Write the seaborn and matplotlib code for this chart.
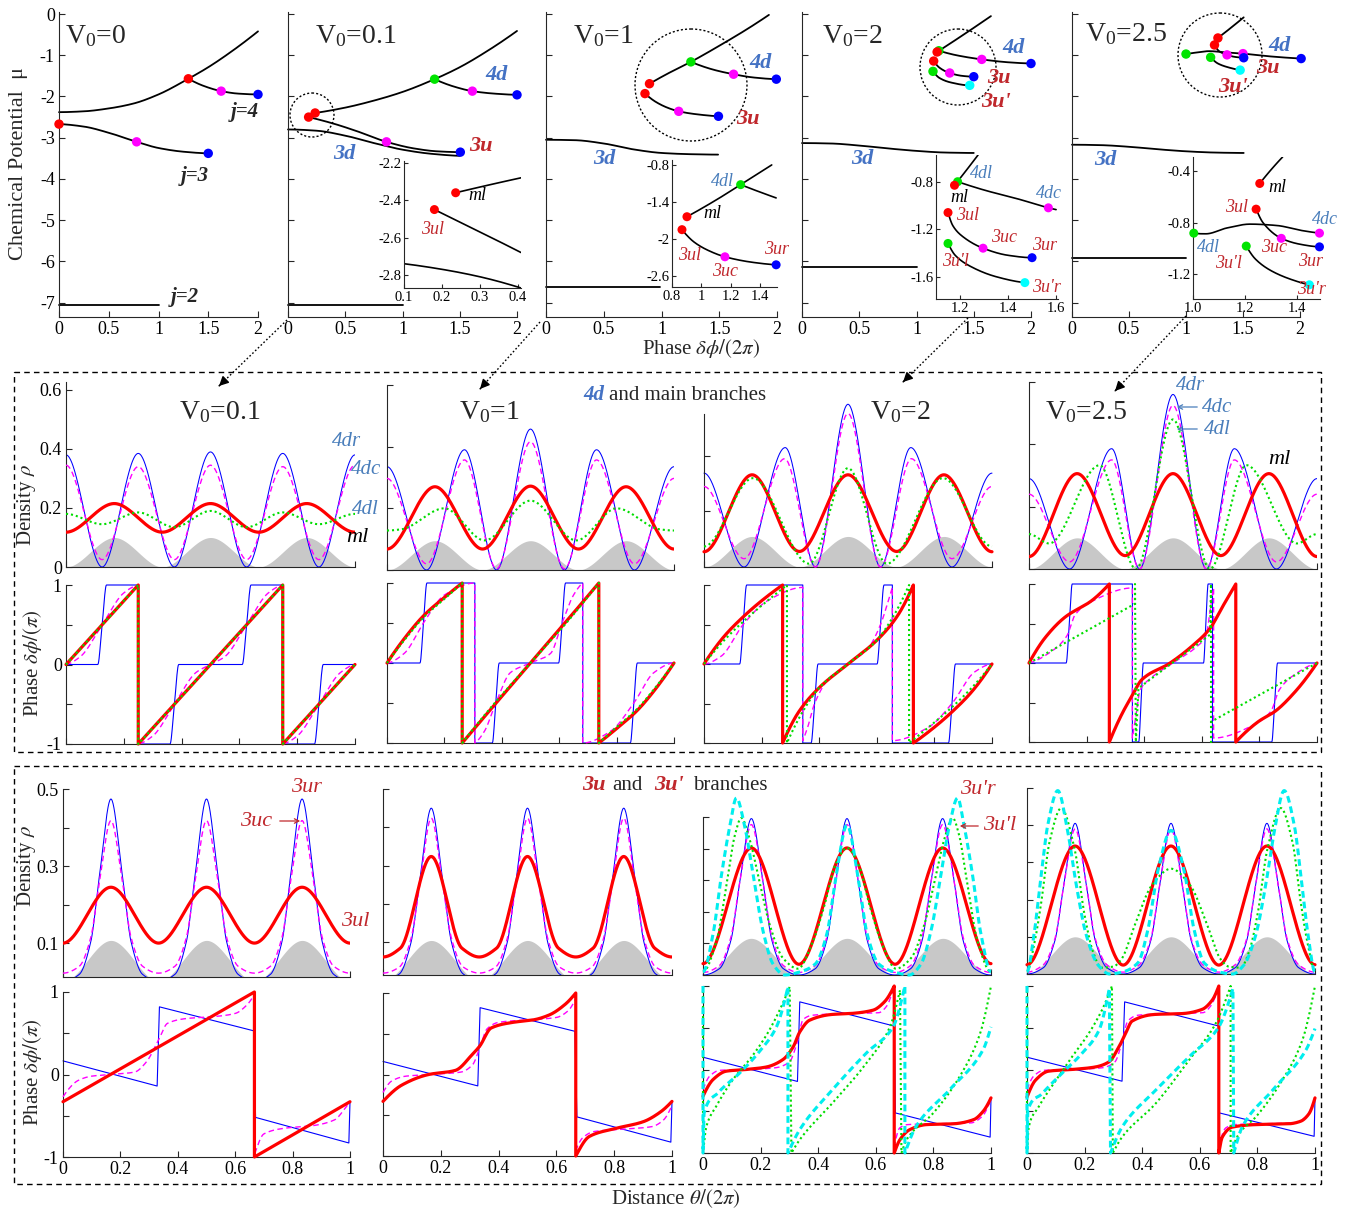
import numpy as np
import matplotlib
matplotlib.use("Agg")
import matplotlib.pyplot as plt
import seaborn as sns
from matplotlib.patches import Circle, Rectangle

# ===================== DATA =====================
# ---- top row: chemical potential branches (x = phase dphi/2pi, y = mu) ----
P1_MAIN = [(0, -2.38), (0.25, -2.36), (0.5, -2.29), (0.75, -2.17), (1.0, -1.95), (1.3, -1.57), (1.5, -1.29), (1.75, -0.88), (2.0, -0.42)]
P1_J4 = [(1.3, -1.57), (1.45, -1.74), (1.63, -1.87), (1.8, -1.93), (2.0, -1.95)]
P1_J3 = [(0, -2.67), (0.25, -2.73), (0.5, -2.88), (0.78, -3.1), (1.0, -3.25), (1.25, -3.34), (1.5, -3.38)]
P1_J2 = [(0, -7.07), (1.0, -7.07)]
P1_DOTS = [(1.3, -1.57, "red"), (1.63, -1.87, "magenta"), (2.0, -1.95, "blue"), (0, -2.67, "red"), (0.78, -3.1, "magenta"), (1.5, -3.38, "blue")]

P2_MAIN = [(0.237, -2.40), (0.5, -2.27), (0.75, -2.1), (1.0, -1.89), (1.28, -1.58), (1.5, -1.29), (1.75, -0.88), (2.0, -0.41)]
P2_4D = [(1.28, -1.58), (1.45, -1.76), (1.61, -1.87), (1.8, -1.93), (2.0, -1.96)]
P2_3U = [(0.18, -2.5), (0.4, -2.66), (0.6, -2.84), (0.86, -3.1), (1.1, -3.26), (1.3, -3.33), (1.505, -3.35)]
P2_3D = [(0, -2.8), (0.25, -2.83), (0.5, -2.95), (0.75, -3.13), (1.0, -3.29), (1.25, -3.39), (1.5, -3.44)]
P2_LOW = [(0, -7.05), (1.0, -7.05)]
P2_DOTS = [(0.237, -2.40, "red"), (0.18, -2.5, "red"), (1.28, -1.58, "green"), (1.61, -1.87, "magenta"), (2.0, -1.96, "blue"), (0.86, -3.1, "magenta"), (1.505, -3.35, "blue")]

P3_MAIN = [(0.896, -1.69), (1.05, -1.45), (1.254, -1.16), (1.5, -0.77), (1.75, -0.35), (1.93, -0.02)]
P3_4D = [(1.254, -1.16), (1.45, -1.35), (1.624, -1.46), (1.8, -1.54), (1.994, -1.58)]
P3_3U = [(0.857, -1.93), (0.95, -2.13), (1.05, -2.27), (1.149, -2.36), (1.3, -2.43), (1.493, -2.48)]
P3_3D = [(0, -3.05), (0.25, -3.06), (0.5, -3.14), (0.75, -3.28), (1.0, -3.37), (1.25, -3.40), (1.49, -3.41)]
P3_LOW = [(0, -6.62), (0.99, -6.62)]
P3_DOTS = [(0.896, -1.69, "red"), (0.857, -1.93, "red"), (1.254, -1.16, "green"), (1.624, -1.46, "magenta"), (1.994, -1.58, "blue"), (1.149, -2.36, "magenta"), (1.493, -2.48, "blue")]

P4_MAIN = [(1.18, -0.92), (1.4, -0.52), (1.65, -0.05)]
P4_4D = [(1.195, -0.89), (1.35, -1.0), (1.57, -1.1), (1.8, -1.17), (2.0, -1.2)]
P4_3U = [(1.15, -1.14), (1.2, -1.3), (1.29, -1.43), (1.4, -1.5), (1.5, -1.52)]
P4_3UP = [(1.144, -1.39), (1.2, -1.55), (1.3, -1.66), (1.465, -1.73)]
P4_3D = [(0, -3.13), (0.25, -3.14), (0.5, -3.19), (0.75, -3.26), (1.0, -3.32), (1.25, -3.36), (1.5, -3.37)]
P4_LOW = [(0, -6.13), (1.0, -6.13)]
P4_DOTS = [(1.195, -0.89, "green"), (1.18, -0.92, "red"), (1.57, -1.1, "magenta"), (2.0, -1.2, "blue"), (1.15, -1.14, "red"), (1.29, -1.43, "magenta"), (1.5, -1.52, "blue"), (1.144, -1.39, "green"), (1.465, -1.73, "cyan")]

P5_MAIN = [(1.28, -0.58), (1.4, -0.32), (1.506, -0.08)]
P5_4D = [(1.0, -0.97), (1.1, -0.93), (1.2, -0.9), (1.35, -0.93), (1.5, -0.96), (1.75, -1.03), (2.01, -1.08)]
P5_3U = [(1.25, -0.75), (1.29, -0.9), (1.36, -0.99), (1.43, -1.04), (1.506, -1.06)]
P5_3UP = [(1.216, -1.05), (1.28, -1.2), (1.38, -1.3), (1.475, -1.36)]
P5_3D = [(0, -3.17), (0.25, -3.18), (0.5, -3.22), (0.75, -3.28), (1.0, -3.33), (1.25, -3.36), (1.506, -3.37)]
P5_LOW = [(0, -5.92), (1.0, -5.92)]
P5_DOTS = [(1.28, -0.58, "red"), (1.25, -0.75, "red"), (1.0, -0.97, "green"), (1.5, -0.96, "magenta"), (2.01, -1.08, "blue"), (1.36, -0.99, "magenta"), (1.506, -1.06, "blue"), (1.216, -1.05, "green"), (1.475, -1.36, "cyan")]

# ---- insets ----
I2_ML = [(0.236, -2.36), (0.32, -2.32), (0.408, -2.28)]
I2_3UL = [(0.18, -2.45), (0.25, -2.52), (0.32, -2.59), (0.408, -2.68)]
I2_3D = [(0.1, -2.74), (0.2, -2.77), (0.3, -2.81), (0.408, -2.87)]
I2_DOTS = [(0.236, -2.36, "red"), (0.18, -2.45, "red")]

I3_ML = [(0.902, -1.64), (1.1, -1.37), (1.268, -1.12), (1.48, -0.8)]
I3_4D = [(1.268, -1.12), (1.4, -1.24), (1.51, -1.335)]
I3_3U = [(0.868, -1.85), (0.95, -2.05), (1.05, -2.19), (1.161, -2.29), (1.35, -2.38), (1.51, -2.42)]
I3_DOTS = [(0.902, -1.64, "red"), (1.268, -1.12, "green"), (0.868, -1.85, "red"), (1.161, -2.29, "magenta"), (1.51, -2.42, "blue")]

I4_ML = [(1.177, -0.83), (1.22, -0.72), (1.275, -0.575)]
I4_4DC = [(1.19, -0.8), (1.3, -0.87), (1.45, -0.95), (1.568, -1.02), (1.6, -1.035)]
I4_3U = [(1.15, -1.06), (1.17, -1.17), (1.21, -1.26), (1.296, -1.36), (1.4, -1.42), (1.5, -1.44)]
I4_3UP = [(1.15, -1.32), (1.18, -1.42), (1.25, -1.52), (1.35, -1.6), (1.47, -1.65)]
I4_DOTS = [(1.19, -0.8, "green"), (1.177, -0.83, "red"), (1.568, -1.02, "magenta"), (1.15, -1.06, "red"), (1.296, -1.36, "magenta"), (1.5, -1.44, "blue"), (1.15, -1.32, "green"), (1.47, -1.65, "cyan")]

I5_ML = [(1.257, -0.495), (1.3, -0.39), (1.345, -0.29)]
I5_3UL = [(1.243, -0.694), (1.27, -0.8), (1.34, -0.92), (1.41, -0.965), (1.487, -0.986)]
I5_4DL = [(1.003, -0.88), (1.05, -0.885), (1.13, -0.84), (1.22, -0.81), (1.32, -0.82), (1.42, -0.86), (1.487, -0.88)]
I5_3UPL = [(1.205, -0.98), (1.24, -1.08), (1.3, -1.17), (1.38, -1.24), (1.448, -1.28)]
I5_DOTS = [(1.257, -0.495, "red"), (1.243, -0.694, "red"), (1.003, -0.88, "green"), (1.487, -0.88, "magenta"), (1.34, -0.92, "magenta"), (1.487, -0.986, "blue"), (1.205, -0.98, "green"), (1.448, -1.28, "cyan")]

# ---- middle section (4d and main branches): density half-period knots x in [0, 0.5] (mirror symmetric) ----
M1_BLUE = [(0, 0.38), (0.125, 0.0), (0.25, 0.385), (0.375, 0.0), (0.5, 0.39)]
M1_MAG = [(0, 0.345), (0.125, 0.025), (0.25, 0.34), (0.375, 0.025), (0.5, 0.345)]
M1_GREEN = [(0, 0.18), (0.125, 0.145), (0.25, 0.185), (0.375, 0.135), (0.5, 0.19)]
M1_RED = [(0, 0.118), (0.167, 0.215), (0.333, 0.118), (0.5, 0.215)]
M1_GRAY = [(0, 0.0), (0.167, 0.1), (0.333, 0.0), (0.5, 0.1)]

M2_BLUE = [(0, 0.335), (0.138, 0.0), (0.27, 0.39), (0.382, 0.0), (0.5, 0.457)]
M2_MAG = [(0, 0.297), (0.138, 0.02), (0.27, 0.357), (0.382, 0.004), (0.5, 0.416)]
M2_GREEN = [(0, 0.128), (0.05, 0.132), (0.2, 0.2), (0.34, 0.096), (0.5, 0.225)]
M2_RED = [(0, 0.068), (0.167, 0.27), (0.333, 0.068), (0.5, 0.272)]
M2_GRAY = [(0, 0.0), (0.167, 0.095), (0.333, 0.0), (0.5, 0.095)]

M3_BLUE = [(0, 0.338), (0.139, 0.0), (0.282, 0.43), (0.387, 0.0), (0.5, 0.586)]
M3_MAG = [(0, 0.29), (0.139, 0.03), (0.28, 0.39), (0.387, 0.0), (0.5, 0.553)]
M3_GREEN = [(0, 0.074), (0.17, 0.32), (0.365, 0.012), (0.5, 0.356)]
M3_RED = [(0, 0.055), (0.167, 0.332), (0.331, 0.056), (0.5, 0.332)]
M3_GRAY = [(0, 0.0), (0.167, 0.11), (0.333, 0.0), (0.5, 0.11)]

M4_BLUE = [(0, 0.29), (0.141, 0.0), (0.287, 0.386), (0.384, 0.0), (0.5, 0.56)]
M4_MAG = [(0, 0.24), (0.141, 0.023), (0.287, 0.35), (0.384, 0.0), (0.5, 0.525)]
M4_GREEN = [(0, 0.112), (0.07, 0.082), (0.245, 0.333), (0.372, 0.0), (0.5, 0.48)]
M4_RED = [(0, 0.04), (0.167, 0.306), (0.334, 0.043), (0.5, 0.306)]
M4_GRAY = [(0, 0.0), (0.167, 0.1), (0.333, 0.0), (0.5, 0.1)]

# ---- middle section phase (segments split at the 2pi jumps) ----
M1P_BLUE = [[(0, 0), (0.11, 0), (0.125, 0.5), (0.14, 1), (0.25, 1)],
            [(0.25, -1), (0.36, -1), (0.375, -0.5), (0.39, 0), (0.61, 0), (0.625, 0.5), (0.64, 1), (0.75, 1)],
            [(0.75, -1), (0.86, -1), (0.875, -0.5), (0.89, 0), (1, 0)]]
M1P_MAG = [[(0, 0), (0.05, 0.1), (0.125, 0.5), (0.2, 0.9), (0.25, 1)],
           [(0.25, -1), (0.3, -0.9), (0.375, -0.5), (0.45, -0.1), (0.5, 0), (0.55, 0.1), (0.625, 0.5), (0.7, 0.9), (0.75, 1)],
           [(0.75, -1), (0.8, -0.9), (0.875, -0.5), (0.95, -0.1), (1, 0)]]
M1P_GREEN = [[(0, 0), (0.25, 1)], [(0.25, -1), (0.75, 1)], [(0.75, -1), (1, 0)]]
M1P_RED = [[(0, 0), (0.25, 1)], [(0.25, -1), (0.75, 1)], [(0.75, -1), (1, 0)]]

M2P_BLUE = [[(0, 0), (0.115, 0), (0.127, 0.5), (0.139, 1), (0.306, 1)],
            [(0.306, -1), (0.367, -1), (0.379, -0.5), (0.391, 0), (0.598, 0), (0.61, 0.5), (0.622, 1), (0.682, 1)],
            [(0.682, -1), (0.848, -1), (0.86, -0.5), (0.872, 0), (1, 0)]]
M2P_MAG = [[(0, 0), (0.06, 0.12), (0.127, 0.5), (0.2, 0.85), (0.306, 1)],
           [(0.306, -1), (0.34, -0.85), (0.379, -0.5), (0.43, -0.12), (0.5, 0), (0.57, 0.12), (0.61, 0.5), (0.65, 0.85), (0.682, 1)],
           [(0.682, -1), (0.78, -0.85), (0.86, -0.5), (0.93, -0.12), (1, 0)]]
M2P_GREEN = [[(0, 0), (0.07, 0.33), (0.13, 0.58), (0.2, 0.8), (0.262, 1)],
             [(0.262, -1), (0.38, -0.48), (0.5, 0), (0.62, 0.48), (0.738, 1)],
             [(0.738, -1), (0.8, -0.8), (0.87, -0.58), (0.93, -0.33), (1, 0)]]
M2P_RED = [[(0, 0), (0.07, 0.35), (0.13, 0.6), (0.2, 0.82), (0.262, 1)],
           [(0.262, -1), (0.38, -0.5), (0.5, 0), (0.62, 0.5), (0.738, 1)],
           [(0.738, -1), (0.8, -0.82), (0.87, -0.6), (0.93, -0.35), (1, 0)]]

M3P_BLUE = [[(0, 0), (0.124, 0), (0.136, 0.5), (0.148, 1), (0.343, 1)],
            [(0.343, -1), (0.372, -1), (0.384, -0.5), (0.396, 0), (0.601, 0), (0.613, 0.5), (0.625, 1), (0.654, 1)],
            [(0.654, -1), (0.849, -1), (0.861, -0.5), (0.873, 0), (1, 0)]]
M3P_MAG = [[(0, 0), (0.06, 0.1), (0.136, 0.5), (0.22, 0.8), (0.343, 0.97)],
           [(0.343, -0.97), (0.36, -0.8), (0.384, -0.5), (0.43, -0.2), (0.5, 0), (0.57, 0.2), (0.613, 0.5), (0.64, 0.8), (0.654, 0.97)],
           [(0.654, -0.97), (0.78, -0.8), (0.861, -0.5), (0.94, -0.1), (1, 0)]]
M3P_GREEN = [[(0, 0), (0.07, 0.3), (0.14, 0.55), (0.22, 0.8), (0.288, 1)],
             [(0.288, -1), (0.34, -0.62), (0.4, -0.3), (0.5, 0), (0.6, 0.3), (0.66, 0.62), (0.712, 1)],
             [(0.712, -1), (0.78, -0.8), (0.86, -0.55), (0.93, -0.3), (1, 0)]]
M3P_RED = [[(0, 0), (0.07, 0.35), (0.137, 0.6), (0.2, 0.8), (0.273, 1)],
           [(0.273, -1), (0.33, -0.6), (0.4, -0.3), (0.5, 0), (0.6, 0.3), (0.67, 0.6), (0.727, 1)],
           [(0.727, -1), (0.8, -0.8), (0.863, -0.6), (0.93, -0.35), (1, 0)]]

M4P_BLUE = [[(0, 0), (0.129, 0), (0.14, 0.5), (0.15, 1), (0.359, 1)],
            [(0.359, -1), (0.381, -1), (0.389, -0.5), (0.397, 0), (0.606, 0), (0.614, 0.5), (0.622, 1), (0.637, 1)],
            [(0.637, -1), (0.843, -1), (0.853, -0.5), (0.863, 0), (1, 0)]]
M4P_MAG = [[(0, 0), (0.079, 0.15), (0.131, 0.34), (0.16, 0.61), (0.218, 0.78), (0.359, 0.95)],
           [(0.359, -0.95), (0.37, -0.7), (0.385, -0.35), (0.42, -0.2), (0.5, 0), (0.58, 0.2), (0.615, 0.35), (0.63, 0.7), (0.641, 0.95)],
           [(0.641, -0.95), (0.782, -0.78), (0.84, -0.61), (0.869, -0.34), (0.921, -0.15), (1, 0)]]
M4P_GREEN_POLY = [(0, 0), (0.368, 0.75), (0.368, 1), (0.371, -1), (0.38, -0.32), (0.629, 0.36), (0.632, 1), (0.632, -1), (0.634, -0.74), (1, 0)]
M4P_RED = [[(0, 0), (0.056, 0.32), (0.125, 0.58), (0.218, 0.79), (0.279, 1)],
           [(0.279, -1), (0.322, -0.65), (0.357, -0.42), (0.392, -0.21), (0.49, 0.0), (0.565, 0.21), (0.629, 0.44), (0.67, 0.7), (0.718, 1)],
           [(0.718, -1), (0.797, -0.74), (0.855, -0.61), (0.925, -0.36), (1, 0)]]

# ---- bottom section (3u and 3u' branches): density half-period knots x in [0, 0.5] ----
B1_BLUE = [(0, 0.0), (0.057, 0.019), (0.097, 0.104), (0.127, 0.275), (0.167, 0.474), (0.207, 0.275), (0.237, 0.104), (0.277, 0.019), (0.333, 0.0), (0.39, 0.019), (0.43, 0.104), (0.46, 0.275), (0.5, 0.474)]
B1_MAG = [(0, 0.022), (0.057, 0.04), (0.097, 0.115), (0.127, 0.26), (0.167, 0.418), (0.207, 0.26), (0.237, 0.115), (0.277, 0.04), (0.333, 0.022), (0.39, 0.04), (0.43, 0.115), (0.46, 0.26), (0.5, 0.418)]
B1_RED = [(0, 0.1), (0.167, 0.245), (0.333, 0.1), (0.5, 0.245)]
B1_GRAY = [(0, 0.0), (0.167, 0.107), (0.333, 0.0), (0.5, 0.107)]

B2_BLUE = [(0, 0.0), (0.057, 0.018), (0.097, 0.1), (0.127, 0.26), (0.167, 0.45), (0.207, 0.26), (0.237, 0.1), (0.277, 0.018), (0.333, 0.0), (0.39, 0.018), (0.43, 0.1), (0.46, 0.26), (0.5, 0.45)]
B2_MAG = [(0, 0.02), (0.057, 0.036), (0.097, 0.11), (0.127, 0.25), (0.167, 0.424), (0.207, 0.25), (0.237, 0.11), (0.277, 0.036), (0.333, 0.02), (0.39, 0.036), (0.43, 0.11), (0.46, 0.25), (0.5, 0.424)]
B2_RED = [(0, 0.062), (0.06, 0.085), (0.167, 0.324), (0.273, 0.085), (0.333, 0.062), (0.393, 0.085), (0.5, 0.324)]
B2_GRAY = [(0, 0.0), (0.167, 0.105), (0.333, 0.0), (0.5, 0.105)]

B3_BLUE = [(0, 0.0), (0.057, 0.02), (0.097, 0.11), (0.127, 0.29), (0.168, 0.495), (0.209, 0.29), (0.239, 0.11), (0.279, 0.02), (0.333, 0.0), (0.39, 0.02), (0.43, 0.11), (0.46, 0.29), (0.5, 0.495)]
B3_MAG = [(0, 0.008), (0.057, 0.03), (0.097, 0.12), (0.127, 0.29), (0.168, 0.476), (0.209, 0.29), (0.239, 0.12), (0.279, 0.03), (0.333, 0.008), (0.39, 0.03), (0.43, 0.12), (0.46, 0.29), (0.5, 0.476)]
B3_RED = [(0, 0.036), (0.168, 0.402), (0.333, 0.034), (0.5, 0.402)]
B3_CYAN = [(0, 0.01), (0.035, 0.13), (0.064, 0.316), (0.093, 0.47), (0.116, 0.56), (0.145, 0.47), (0.174, 0.316), (0.209, 0.137), (0.243, 0.035), (0.284, 0.0), (0.33, 0.008), (0.39, 0.035), (0.43, 0.13), (0.46, 0.3), (0.5, 0.474)]
B3_GREEN = [(0, 0.01), (0.046, 0.105), (0.087, 0.316), (0.11, 0.44), (0.133, 0.497), (0.162, 0.43), (0.191, 0.316), (0.232, 0.158), (0.278, 0.053), (0.33, 0.02), (0.379, 0.1), (0.42, 0.215), (0.46, 0.35), (0.5, 0.402)]
B3_GRAY = [(0, 0.0), (0.167, 0.116), (0.333, 0.0), (0.5, 0.116)]

B4_BLUE = [(0, 0.0), (0.057, 0.017), (0.097, 0.09), (0.127, 0.235), (0.167, 0.405), (0.207, 0.235), (0.237, 0.09), (0.277, 0.017), (0.333, 0.0), (0.39, 0.017), (0.43, 0.09), (0.46, 0.235), (0.5, 0.405)]
B4_MAG = [(0, 0.005), (0.057, 0.025), (0.097, 0.095), (0.127, 0.235), (0.167, 0.39), (0.207, 0.235), (0.237, 0.095), (0.277, 0.025), (0.333, 0.005), (0.39, 0.025), (0.43, 0.095), (0.46, 0.235), (0.5, 0.39)]
B4_RED = [(0, 0.025), (0.167, 0.344), (0.334, 0.024), (0.5, 0.344)]
B4_CYAN = [(0, 0.006), (0.025, 0.11), (0.049, 0.265), (0.072, 0.4), (0.107, 0.493), (0.142, 0.38), (0.171, 0.24), (0.206, 0.104), (0.247, 0.024), (0.287, 0.0), (0.33, 0.005), (0.385, 0.03), (0.42, 0.12), (0.456, 0.283), (0.5, 0.386)]
B4_GREEN = [(0, 0.006), (0.025, 0.08), (0.049, 0.19), (0.078, 0.354), (0.119, 0.446), (0.165, 0.337), (0.2, 0.158), (0.229, 0.06), (0.258, 0.017), (0.3, 0.02), (0.328, 0.04), (0.374, 0.131), (0.433, 0.238), (0.5, 0.283)]
B4_GRAY = [(0, 0.0), (0.167, 0.1), (0.333, 0.0), (0.5, 0.1)]

# ---- bottom section phase ----
B1P_BLUE = [(0, 0.165), (0.328, -0.14), (0.336, 0.82), (0.664, 0.53), (0.671, -0.52), (0.996, -0.83), (1.0, -0.33)]
B1P_MAG = [[(0, -0.27), (0.054, -0.07), (0.1, -0.02), (0.167, 0.0), (0.25, 0.03), (0.29, 0.15), (0.333, 0.42), (0.364, 0.62), (0.434, 0.68), (0.52, 0.7), (0.6, 0.74), (0.64, 0.84), (0.667, 0.97)],
           [(0.667, -0.97), (0.7, -0.72), (0.775, -0.65), (0.87, -0.62), (0.946, -0.55), (0.985, -0.4), (1.0, -0.33)]]
B1P_RED = [[(0, -0.33), (0.667, 1.0)], [(0.667, -1.0), (1.0, -0.33)]]

B2P_BLUE = [(0, 0.16), (0.328, -0.14), (0.336, 0.82), (0.664, 0.53), (0.671, -0.52), (0.996, -0.83), (1.0, -0.33)]
B2P_MAG = [[(0, -0.22), (0.03, -0.08), (0.08, -0.02), (0.167, 0.0), (0.27, 0.03), (0.31, 0.12), (0.335, 0.33), (0.36, 0.56), (0.4, 0.64), (0.5, 0.67), (0.6, 0.7), (0.64, 0.78), (0.667, 0.93)],
           [(0.667, -0.93), (0.69, -0.78), (0.73, -0.7), (0.833, -0.67), (0.93, -0.64), (0.97, -0.56), (1.0, -0.38)]]
B2P_RED = [[(0, -0.33), (0.065, -0.13), (0.158, 0.0), (0.25, 0.05), (0.31, 0.25), (0.335, 0.35), (0.374, 0.57), (0.45, 0.64), (0.52, 0.67), (0.575, 0.73), (0.63, 0.86), (0.667, 1.0)],
           [(0.667, -1.0), (0.714, -0.76), (0.807, -0.66), (0.9, -0.58), (0.96, -0.46), (1.0, -0.33)]]

B3P_BLUE = [(0, 0.147), (0.328, -0.143), (0.336, 0.81), (0.664, 0.52), (0.668, -0.52), (0.997, -0.81), (1.0, -0.34)]
B3P_MAG = [[(0, -0.24), (0.023, -0.08), (0.058, -0.01), (0.15, 0.0), (0.25, 0.02), (0.3, 0.09), (0.325, 0.3), (0.348, 0.6), (0.38, 0.65), (0.5, 0.67), (0.61, 0.68), (0.64, 0.77), (0.655, 0.9), (0.664, 0.97)],
           [(0.664, -0.92), (0.683, -0.7), (0.71, -0.66), (0.8, -0.65), (0.93, -0.64), (0.97, -0.56), (0.995, -0.4)]]
B3P_RED = [[(0, -0.32), (0.035, -0.12), (0.081, -0.02), (0.15, 0.0), (0.22, 0.03), (0.278, 0.12), (0.313, 0.27), (0.336, 0.45), (0.37, 0.59), (0.45, 0.66), (0.51, 0.67), (0.59, 0.71), (0.63, 0.81), (0.664, 1.0)],
           [(0.664, -1.0), (0.684, -0.84), (0.718, -0.72), (0.776, -0.66), (0.87, -0.65), (0.94, -0.6), (0.973, -0.5), (1.0, -0.34)]]
B3P_CYAN = [[(0, 1.0)], [(0, -1.0), (0.004, -0.52), (0.052, -0.28), (0.128, -0.04), (0.197, 0.22), (0.255, 0.51), (0.295, 0.99)],
            [(0.295, -1.0), (0.336, -0.72), (0.45, -0.24), (0.568, 0.2), (0.66, 0.51), (0.701, 1.0)],
            [(0.701, -1.0), (0.74, -0.68), (0.857, -0.24), (0.973, 0.24), (1.0, 0.51)]]
B3P_GREEN = [[(0, 1.0)], [(0, -1.0), (0.012, -0.68), (0.046, -0.44), (0.104, -0.12), (0.162, 0.12), (0.22, 0.41), (0.266, 0.71), (0.301, 0.99)],
             [(0.307, -1.0), (0.336, -0.84), (0.45, -0.4), (0.568, 0.08), (0.649, 0.51), (0.684, 0.95)],
             [(0.689, -1.0), (0.707, -0.84), (0.8, -0.52), (0.892, -0.08), (0.962, 0.43), (1.0, 1.0)]]

B4P_BLUE = [(0, 0.147), (0.33, -0.14), (0.339, 0.81), (0.666, 0.52), (0.668, -0.52), (0.997, -0.8), (1.0, -0.34)]
B4P_MAG = [[(0, -0.24), (0.023, -0.08), (0.058, -0.01), (0.156, 0.0), (0.26, 0.02), (0.305, 0.09), (0.328, 0.3), (0.35, 0.58), (0.385, 0.65), (0.5, 0.67), (0.61, 0.68), (0.64, 0.77), (0.657, 0.9), (0.666, 0.97)],
           [(0.666, -0.92), (0.69, -0.7), (0.72, -0.66), (0.8, -0.65), (0.93, -0.64), (0.97, -0.56), (0.995, -0.4)]]
B4P_RED = [[(0, -0.33), (0.029, -0.13), (0.075, -0.02), (0.156, 0.0), (0.237, 0.03), (0.284, 0.09), (0.319, 0.27), (0.342, 0.43), (0.365, 0.58), (0.446, 0.66), (0.54, 0.67), (0.608, 0.72), (0.643, 0.83), (0.666, 1.0)],
           [(0.666, -1.0), (0.678, -0.81), (0.713, -0.69), (0.794, -0.66), (0.91, -0.65), (0.95, -0.62), (0.979, -0.53), (1.0, -0.34)]]
B4P_CYAN = [[(0, 1.0)], [(0, -1.0), (0.003, -0.49), (0.052, -0.29), (0.12, -0.05), (0.19, 0.19), (0.25, 0.47), (0.286, 0.97)],
            [(0.29, -1.0), (0.33, -0.69), (0.446, -0.25), (0.562, 0.15), (0.666, 0.51), (0.715, 0.97)],
            [(0.718, -1.0), (0.747, -0.69), (0.852, -0.25), (0.968, 0.23), (1.0, 0.49)]]
B4P_GREEN = [[(0, 1.0)], [(0, -1.0), (0.006, -0.69), (0.04, -0.45), (0.1, -0.13), (0.156, 0.15), (0.214, 0.43), (0.26, 0.71), (0.295, 1.0)],
             [(0.298, -1.0), (0.33, -0.81), (0.446, -0.41), (0.562, 0.11), (0.655, 0.55), (0.707, 1.0)],
             [(0.707, -1.0), (0.736, -0.77), (0.794, -0.57), (0.886, -0.13), (0.956, 0.35), (1.0, 1.0)]]

# ===================== STYLE =====================
sns.set_theme(style="white")
plt.rcParams["font.family"] = ["Liberation Serif", "DejaVu Serif"]
plt.rcParams["mathtext.fontset"] = "stix"
plt.rcParams["axes.unicode_minus"] = False

W, H = 1347, 1213
fig = plt.figure(figsize=(W / 100, H / 100), dpi=100)
fig.patch.set_facecolor("white")

AXC = "#262626"
LB = "#4a7ebb"
LBB = "#4472c4"
LR = "#c0282d"
DOTC = {"red": "#ff0000", "green": "#00e400", "magenta": "#ff00ff", "blue": "#0000ff", "cyan": "#00ffff"}
C_BLUE, C_MAG, C_GREEN, C_RED, C_CYAN, C_GRAY = "#0000ff", "#ff00ff", "#00dd00", "#ff0000", "#00eeee", "#c8c8c8"


def add_ax(x0, x1, y0, y1, labelsize=13, ticklen=4):
    ax = fig.add_axes([x0 / W, 1 - y1 / H, (x1 - x0) / W, (y1 - y0) / H])
    ax.set_facecolor("none")
    for s in ("top", "right"):
        ax.spines[s].set_visible(False)
    for s in ("left", "bottom"):
        ax.spines[s].set_color(AXC)
        ax.spines[s].set_linewidth(0.8)
    ax.tick_params(direction="in", length=ticklen, width=0.8, color=AXC, labelsize=labelsize,
                   labelcolor="black", pad=3, bottom=True, left=True)
    return ax


def _end(h0, h1, d0, d1):
    m = ((2 * h0 + h1) * d0 - h0 * d1) / (h0 + h1)
    if np.sign(m) != np.sign(d0):
        m = 0.0
    elif np.sign(d0) != np.sign(d1) and abs(m) > abs(3 * d0):
        m = 3 * d0
    return m


def pchip_curve(knots, zero_ends=False, dens=700):
    k = np.asarray(knots, float)
    x, y = k[:, 0], k[:, 1]
    n = len(x)
    if n <= 2:
        return x, y
    h = np.diff(x)
    d = np.diff(y) / h
    m = np.zeros(n)
    for i in range(1, n - 1):
        if d[i - 1] * d[i] > 0:
            w1 = 2 * h[i] + h[i - 1]
            w2 = h[i] + 2 * h[i - 1]
            m[i] = (w1 + w2) / (w1 / d[i - 1] + w2 / d[i])
    if not zero_ends:
        m[0] = _end(h[0], h[1], d[0], d[1])
        m[-1] = _end(h[-1], h[-2], d[-1], d[-2])
    xs, ys = [], []
    for i in range(n - 1):
        npt = max(8, int(dens * h[i]))
        t = np.linspace(0, 1, npt, endpoint=False)
        t2, t3 = t * t, t * t * t
        xs.append(x[i] + t * h[i])
        ys.append((2 * t3 - 3 * t2 + 1) * y[i] + (t3 - 2 * t2 + t) * h[i] * m[i]
                  + (-2 * t3 + 3 * t2) * y[i + 1] + (t3 - t2) * h[i] * m[i + 1])
    xs.append([x[-1]])
    ys.append([y[-1]])
    return np.concatenate(xs), np.concatenate(ys)


def mirror(half):
    return list(half) + [(1 - x, y) for x, y in reversed(half[:-1])]


def seg_curve(segs):
    xs, ys = [], []
    for s in segs:
        if len(s) == 1:
            xs.append(np.array([s[0][0]]))
            ys.append(np.array([s[0][1]]))
            continue
        cx, cy = pchip_curve(s)
        xs.append(cx)
        ys.append(cy)
    return np.concatenate(xs), np.concatenate(ys)


def sline(ax, x, y, color, lw, ls="-", z=2, clip=True):
    sns.lineplot(x=np.asarray(x, float), y=np.asarray(y, float), ax=ax, color=color, linewidth=lw,
                 linestyle=ls, sort=False, estimator=None, legend=False, zorder=z, clip_on=clip)


def dots(ax, pts, s=46):
    for x, y, c in pts:
        sns.scatterplot(x=[x], y=[y], ax=ax, color=DOTC[c], s=s, edgecolor="none", linewidth=0,
                        zorder=6, clip_on=False, legend=False)


def curve(ax, knots, lw=1.3, color="black"):
    x, y = pchip_curve(knots)
    sline(ax, x, y, color, lw, clip=False)


# ===================== TOP ROW =====================
TOP_X = [(59, 258), (288, 517), (546, 777), (802, 1031), (1072, 1300)]
TOP_CURVES = [
    [P1_MAIN, P1_J4, P1_J3, P1_J2],
    [P2_MAIN, P2_4D, P2_3U, P2_3D, P2_LOW],
    [P3_MAIN, P3_4D, P3_3U, P3_3D, P3_LOW],
    [P4_MAIN, P4_4D, P4_3U, P4_3UP, P4_3D, P4_LOW],
    [P5_MAIN, P5_4D, P5_3U, P5_3UP, P5_3D, P5_LOW],
]
TOP_DOTS = [P1_DOTS, P2_DOTS, P3_DOTS, P4_DOTS, P5_DOTS]
for i, (x0, x1) in enumerate(TOP_X):
    ax = add_ax(x0, x1, 12, 317)
    ax.set_xlim(0, 2)
    ax.set_ylim(-7.35, 0.05)
    ax.set_xticks([0, 0.5, 1, 1.5, 2])
    ax.set_xticklabels(["0", "0.5", "1", "1.5", "2"])
    ax.set_yticks(list(range(-7, 1)))
    ax.set_yticklabels([str(v) for v in range(-7, 1)] if i == 0 else [])
    for c in TOP_CURVES[i]:
        curve(ax, c)
    dots(ax, TOP_DOTS[i])

INSETS = [
    ((404, 521, 161, 288), (0.1, 0.408), (-2.87, -2.19), [0.1, 0.2, 0.3, 0.4], ["0.1", "0.2", "0.3", "0.4"],
     [-2.8, -2.6, -2.4, -2.2], ["-2.8", "-2.6", "-2.4", "-2.2"], [I2_ML, I2_3UL, I2_3D], I2_DOTS),
    ((672, 777, 160, 287), (0.8, 1.516), (-2.78, -0.72), [0.8, 1.0, 1.2, 1.4], ["0.8", "1", "1.2", "1.4"],
     [-2.6, -2.0, -1.4, -0.8], ["-2.6", "-2", "-1.4", "-0.8"], [I3_ML, I3_4D, I3_3U], I3_DOTS),
    ((936, 1058, 155, 299), (1.1, 1.608), (-1.788, -0.575), [1.2, 1.4, 1.6], ["1.2", "1.4", "1.6"],
     [-1.6, -1.2, -0.8], ["-1.6", "-1.2", "-0.8"], [I4_ML, I4_4DC, I4_3U, I4_3UP], I4_DOTS),
    ((1193, 1320, 157, 299), (1.0, 1.489), (-1.39, -0.29), [1.0, 1.2, 1.4], ["1.0", "1.2", "1.4"],
     [-1.2, -0.8, -0.4], ["-1.2", "-0.8", "-0.4"], [I5_ML, I5_3UL, I5_4DL, I5_3UPL], I5_DOTS),
]
for box, xl, yl, xt, xtl, yt, ytl, curves, dd in INSETS:
    ax = add_ax(*box, labelsize=10.5, ticklen=3)
    ax.set_xlim(*xl)
    ax.set_ylim(*yl)
    ax.set_xticks(xt)
    ax.set_xticklabels(xtl)
    ax.set_yticks(yt)
    ax.set_yticklabels(ytl)
    ax.tick_params(pad=2)
    for c in curves:
        x, y = pchip_curve(c)
        sline(ax, x, y, "black", 1.2, clip=True)
    dots(ax, dd, s=42)

# ===================== MIDDLE SECTION =====================
MID_X = [(66, 355), (387, 674), (704, 992), (1029, 1317)]
MID_DY = [(382, 567, 0.627), (385, 570, 0.6), (414, 567, 0.551), (382, 569, 0.6)]
MID_PY = [(585, 744), (583, 743), (585, 743), (584, 742)]
MID_DENS = [
    (M1_GRAY, M1_BLUE, M1_MAG, M1_RED, M1_GREEN),
    (M2_GRAY, M2_BLUE, M2_MAG, M2_RED, M2_GREEN),
    (M3_GRAY, M3_BLUE, M3_MAG, M3_RED, M3_GREEN),
    (M4_GRAY, M4_BLUE, M4_MAG, M4_RED, M4_GREEN),
]
MID_PHASE = [
    (M1P_BLUE, M1P_MAG, M1P_RED, M1P_GREEN),
    (M2P_BLUE, M2P_MAG, M2P_RED, M2P_GREEN),
    (M3P_BLUE, M3P_MAG, M3P_RED, M3P_GREEN),
    (M4P_BLUE, M4P_MAG, M4P_RED, None),
]


def density_panel(ax, gray, blue, mag, red, green, base, clip, cyan=None):
    gx, gy = pchip_curve(mirror(gray), zero_ends=True)
    ax.fill_between(gx, base, np.maximum(gy, base), color=C_GRAY, lw=0, zorder=1)
    x, y = pchip_curve(mirror(blue), zero_ends=True)
    sline(ax, x, y, C_BLUE, 0.75, z=2, clip=clip)
    x, y = pchip_curve(mirror(mag), zero_ends=True)
    sline(ax, x, y, C_MAG, 1.0, ls=(0, (4, 2.5)), z=3, clip=clip)
    x, y = pchip_curve(mirror(red), zero_ends=True)
    sline(ax, x, y, C_RED, 2.3, z=4, clip=clip)
    x, y = pchip_curve(mirror(green), zero_ends=True)
    sline(ax, x, y, C_GREEN, 1.5, ls=(0, (1, 1.4)), z=5, clip=clip)
    if cyan is not None:
        x, y = pchip_curve(mirror(cyan), zero_ends=True)
        sline(ax, x, y, C_CYAN, 2.2, ls=(0, (2.2, 1.3)), z=6, clip=clip)


for i in range(4):
    x0, x1 = MID_X[i]
    t, b, top = MID_DY[i]
    ax = add_ax(x0, x1, t, b)
    ax.set_xlim(0, 1)
    ax.set_ylim(0, top)
    ax.set_xticks([0, 0.2, 0.4, 0.6, 0.8, 1])
    ax.set_xticklabels([])
    yt = [v for v in [0, 0.2, 0.4, 0.6] if v <= top + 1e-9]
    ax.set_yticks(yt)
    ax.set_yticklabels(["0", "0.2", "0.4", "0.6"] if i == 0 else [])
    g, bl, mg, rd, gr = MID_DENS[i]
    density_panel(ax, g, bl, mg, rd, gr, 0.0, clip=(i != 2))

    t, b = MID_PY[i]
    ax = add_ax(x0, x1, t, b)
    ax.set_xlim(0, 1)
    ax.set_ylim(-1, 1)
    ax.set_xticks([0, 0.2, 0.4, 0.6, 0.8, 1])
    ax.set_xticklabels([])
    ax.set_yticks([-1, -0.5, 0, 0.5, 1])
    ax.set_yticklabels(["-1", "", "0", "", "1"] if i == 0 else [])
    pb, pm, pr, pg = MID_PHASE[i]
    x, y = seg_curve(pb)
    sline(ax, x, y, C_BLUE, 0.8, z=2, clip=False)
    x, y = seg_curve(pm)
    sline(ax, x, y, C_MAG, 1.0, ls=(0, (4, 2.5)), z=3, clip=False)
    x, y = seg_curve(pr)
    sline(ax, x, y, C_RED, 2.3, z=4, clip=False)
    if pg is not None:
        x, y = seg_curve(pg)
    else:
        x = [p[0] for p in M4P_GREEN_POLY]
        y = [p[1] for p in M4P_GREEN_POLY]
    sline(ax, x, y, C_GREEN, 1.5, ls=(0, (1, 1.4)), z=5, clip=False)

# ===================== BOTTOM SECTION =====================
BOT_X = [(63, 350), (383, 672), (703, 991), (1027, 1315)]
BOT_DY = [(789, 977, 0.012), (789, 975, 0.015), (817, 975, 0.0), (788, 974, 0.0)]
BOT_PY = [(992, 1157), (993, 1156), (986, 1153), (986, 1153)]
BOT_DENS = [
    (B1_GRAY, B1_BLUE, B1_MAG, B1_RED, None, None),
    (B2_GRAY, B2_BLUE, B2_MAG, B2_RED, None, None),
    (B3_GRAY, B3_BLUE, B3_MAG, B3_RED, B3_GREEN, B3_CYAN),
    (B4_GRAY, B4_BLUE, B4_MAG, B4_RED, B4_GREEN, B4_CYAN),
]
BOT_PHASE = [
    (B1P_BLUE, B1P_MAG, B1P_RED, None, None),
    (B2P_BLUE, B2P_MAG, B2P_RED, None, None),
    (B3P_BLUE, B3P_MAG, B3P_RED, B3P_GREEN, B3P_CYAN),
    (B4P_BLUE, B4P_MAG, B4P_RED, B4P_GREEN, B4P_CYAN),
]
for i in range(4):
    x0, x1 = BOT_X[i]
    t, b, base = BOT_DY[i]
    ax = add_ax(x0, x1, t, b)
    ax.set_xlim(0, 1)
    ax.set_ylim(base, 0.5)
    ax.set_xticks([0, 0.2, 0.4, 0.6, 0.8, 1])
    ax.set_xticklabels([])
    yt = [0.1, 0.2, 0.3, 0.4, 0.5] if base > 0 else [0, 0.1, 0.2, 0.3, 0.4, 0.5]
    ax.set_yticks(yt)
    ax.set_yticklabels(["0.1", "", "0.3", "", "0.5"] if i == 0 else [])
    g, bl, mg, rd, gr, cy = BOT_DENS[i]
    gx, gy = pchip_curve(mirror(g), zero_ends=True)
    ax.fill_between(gx, base, np.maximum(gy, base), color=C_GRAY, lw=0, zorder=1)
    clip = base > 0
    x, y = pchip_curve(mirror(bl), zero_ends=True)
    sline(ax, x, y, C_BLUE, 0.75, z=2, clip=clip)
    x, y = pchip_curve(mirror(mg), zero_ends=True)
    sline(ax, x, y, C_MAG, 1.0, ls=(0, (4, 2.5)), z=3, clip=clip)
    x, y = pchip_curve(mirror(rd), zero_ends=True)
    sline(ax, x, y, C_RED, 2.3, z=4, clip=clip)
    if gr is not None:
        x, y = pchip_curve(mirror(gr), zero_ends=True)
        sline(ax, x, y, C_GREEN, 1.5, ls=(0, (1, 1.4)), z=5, clip=clip)
    if cy is not None:
        x, y = pchip_curve(mirror(cy), zero_ends=True)
        sline(ax, x, y, C_CYAN, 2.2, ls=(0, (2.2, 1.3)), z=6, clip=clip)

    t, b = BOT_PY[i]
    ax = add_ax(x0, x1, t, b)
    ax.set_xlim(0, 1)
    ax.set_ylim(-1, 1)
    ax.set_xticks([0, 0.2, 0.4, 0.6, 0.8, 1])
    ax.set_xticklabels(["0", "0.2", "0.4", "0.6", "0.8", "1"])
    ax.set_yticks([-1, -0.5, 0, 0.5, 1])
    ax.set_yticklabels(["-1", "", "0", "", "1"] if i == 0 else [])
    pb, pm, pr, pg, pc = BOT_PHASE[i]
    sline(ax, [p[0] for p in pb], [p[1] for p in pb], C_BLUE, 0.8, z=2, clip=False)
    x, y = seg_curve(pm)
    sline(ax, x, y, C_MAG, 1.0, ls=(0, (4, 2.5)), z=3, clip=False)
    x, y = seg_curve(pr)
    sline(ax, x, y, C_RED, 2.3, z=4, clip=False)
    if pg is not None:
        x, y = seg_curve(pg)
        sline(ax, x, y, C_GREEN, 1.5, ls=(0, (1, 1.4)), z=5, clip=False)
    if pc is not None:
        x, y = seg_curve(pc)
        sline(ax, x, y, C_CYAN, 2.2, ls=(0, (2.2, 1.3)), z=6, clip=False)

# ===================== OVERLAY: texts, boxes, arrows, circles =====================
ov = fig.add_axes([0, 0, 1, 1], zorder=20)
ov.set_xlim(0, W)
ov.set_ylim(H, 0)
ov.axis("off")
ov.patch.set_alpha(0)


def T(x, y, s, ha="center", va="center", **kw):
    ov.text(x, y, s, ha=ha, va=va, **kw)


BI = dict(fontweight="bold", fontstyle="italic")
IT = dict(fontstyle="italic")

# axis titles
T(19, 163, "Chemical Potential  μ", rotation=90, fontsize=16)
T(701, 349, r"Phase $\delta\phi/(2\pi)$", fontsize=15)
T(27, 505, r"Density $\rho$", rotation=90, fontsize=15)
T(33, 663, r"Phase $\delta\phi/(\pi)$", rotation=90, fontsize=15)
T(27, 866, r"Density $\rho$", rotation=90, fontsize=15)
T(32, 1072, r"Phase $\delta\phi/(\pi)$", rotation=90, fontsize=15)
T(676, 1199, r"Distance $\theta/(2\pi)$", fontsize=15)

# V0 titles
for x, y, v in [(65, 36, "0"), (315, 36, "0.1"), (573, 36, "1"), (822, 36, "2"), (1085, 34, "2.5"),
                (179, 412, "0.1"), (459, 412, "1"), (870, 412, "2"), (1045, 412, "2.5")]:
    T(x, y, r"$\mathregular{V_0}$=" + v, ha="left", fontsize=20)

# top-row labels
T(245, 112, "j=4", fontsize=15, **BI)
T(195, 176, "j=3", fontsize=15, **BI)
T(185, 297, "j=2", fontsize=15, **BI)
for x, y, s, c in [(496, 75, "4d", LBB), (481, 146, "3u", LR), (344, 154, "3d", LBB),
                   (760, 63, "4d", LBB), (748, 119, "3u", LR), (604, 159, "3d", LBB),
                   (1013, 48, "4d", LBB), (999, 78, "3u", LR), (996, 102, "3u'", LR), (862, 159, "3d", LBB),
                   (1279, 46, "4d", LBB), (1268, 68, "3u", LR), (1233, 87, "3u'", LR), (1105, 160, "3d", LBB)]:
    T(x, y, s, color=c, fontsize=16, **BI)
for x, y, s, c in [(477, 196, "ml", "black"), (433, 229, "3ul", LR),
                   (722, 181, "4dl", LB), (712, 214, "ml", "black"), (690, 256, "3ul", LR), (725, 272, "3uc", LR), (777, 250, "3ur", LR),
                   (981, 173, "4dl", LB), (1049, 193, "4dc", LB), (959, 197, "ml", "black"), (968, 216, "3ul", LR),
                   (1004, 238, "3uc", LR), (1045, 245, "3ur", LR), (955, 262, "3u'l", LR), (1046, 288, "3u'r", LR),
                   (1277, 187, "ml", "black"), (1237, 207, "3ul", LR), (1325, 219, "4dc", LB), (1208, 247, "4dl", LB),
                   (1274, 247, "3uc", LR), (1311, 261, "3ur", LR), (1228, 264, "3u'l", LR), (1311, 289, "3u'r", LR)]:
    T(x, y, s, color=c, fontsize=13, **IT)

# dotted circles
for cx, cy, r in [(312, 115, 22), (691, 85, 56), (958, 67, 38), (1220, 55, 42)]:
    ov.add_patch(Circle((cx, cy), r, fill=False, ls=(0, (1.5, 1.5)), lw=1, ec="black"))

# section boxes
ov.add_patch(Rectangle((14, 372), 1321 - 14, 752 - 372, fill=False, ls=(0, (4, 3)), lw=1, ec="black"))
ov.add_patch(Rectangle((14, 766), 1321 - 14, 1184 - 766, fill=False, ls=(0, (4, 3)), lw=1, ec="black"))

# dotted arrows from top panels to middle columns
for (xa, ya), (xb, yb) in [((287, 320), (219, 386)), ((540, 322), (480, 389)),
                           ((968, 318), (903, 382)), ((1186, 316), (1115, 391))]:
    ov.plot([xa, xb], [ya, yb], ls=(0, (1.2, 1.6)), color="black", lw=1)
    ux, uy = (xb - xa), (yb - ya)
    nrm = np.hypot(ux, uy)
    ov.annotate("", xy=(xb, yb), xytext=(xb - 3 * ux / nrm, yb - 3 * uy / nrm),
                arrowprops=dict(arrowstyle="-|>", color="black", lw=1, mutation_scale=14))

# middle section title and labels
T(604, 395, "4d", ha="right", color=LBB, fontsize=15, **BI)
T(609, 395, "and main branches", ha="left", fontsize=15)
T(347, 442, "4dr", color=LB, fontsize=15, **IT)
T(366, 470, "4dc", color=LB, fontsize=15, **IT)
T(365, 509, "4dl", color=LB, fontsize=15, **IT)
T(357, 538, "ml", color="black", fontsize=16, **IT)
T(1191, 386, "4dr", color=LB, fontsize=15, **IT)
T(1217, 407, "4dc", color=LB, fontsize=15, **IT)
T(1217, 429, "4dl", color=LB, fontsize=15, **IT)
T(1279, 459, "ml", color="black", fontsize=16, **IT)
for yy in (407, 429):
    ov.annotate("", xy=(1174, yy), xytext=(1200, yy),
                arrowprops=dict(arrowstyle="->", color=LB, lw=0.9, mutation_scale=8))

# bottom section title and labels
T(606, 785, "3u", ha="right", color=LR, fontsize=16, **BI)
T(612, 785, "and", ha="left", fontsize=15)
T(654, 785, "3u'", ha="left", color=LR, fontsize=16, **BI)
T(693, 785, "branches", ha="left", fontsize=15)
T(306, 787, "3ur", color=LR, fontsize=16, **IT)
T(256, 821, "3uc", color=LR, fontsize=16, **IT)
ov.annotate("", xy=(303, 821), xytext=(277, 821),
            arrowprops=dict(arrowstyle="->", color=LR, lw=0.9, mutation_scale=8))
T(355, 921, "3ul", color=LR, fontsize=16, **IT)
T(978, 790, "3u'r", color=LR, fontsize=16, **IT)
T(1000, 826, "3u'l", color=LR, fontsize=16, **IT)
ov.annotate("", xy=(957, 826), xytext=(981, 826),
            arrowprops=dict(arrowstyle="->", color=LR, lw=0.9, mutation_scale=8))

fig.savefig("out.png", dpi=100, facecolor="white")
